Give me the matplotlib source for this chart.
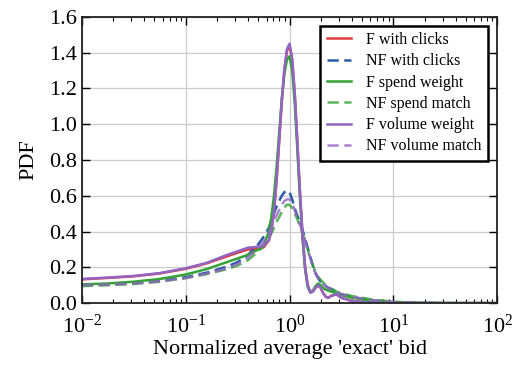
import numpy as np
import matplotlib
matplotlib.use('Agg')
import matplotlib.pyplot as plt

plt.rcParams['font.family'] = ['Liberation Serif', 'DejaVu Serif']
plt.rcParams['mathtext.fontset'] = 'custom'
plt.rcParams['mathtext.rm'] = 'Liberation Serif'

# log10 of the normalized bid
log_bid = [-2, -1.75, -1.5, -1.25, -1, -0.8, -0.6, -0.5, -0.4, -0.3, -0.25, -0.2, -0.175,
           -0.15, -0.125, -0.1, -0.075, -0.05, -0.025, 0, 0.025, 0.05, 0.075, 0.1, 0.125,
           0.15, 0.175, 0.2, 0.225, 0.25, 0.275, 0.3, 0.325, 0.35, 0.375, 0.4, 0.45, 0.5,
           0.6, 0.7, 0.8, 1.0, 1.2, 1.5, 2.0]

f_clicks = [0.133, 0.141, 0.150, 0.166, 0.192, 0.222, 0.262, 0.282, 0.300, 0.302, 0.312, 0.35, 0.41,
            0.51, 0.68, 0.90, 1.12, 1.30, 1.41, 1.44, 1.36, 1.17, 0.90, 0.62, 0.38,
            0.20, 0.10, 0.06, 0.065, 0.085, 0.10, 0.085, 0.055, 0.035, 0.03, 0.04, 0.05, 0.03,
            0.012, 0.006, 0.003, 0.001, 0.0, 0.0, 0.0]
nf_clicks = [0.10, 0.105, 0.112, 0.125, 0.145, 0.17, 0.205, 0.23, 0.27, 0.33, 0.37, 0.42, 0.46,
             0.50, 0.54, 0.57, 0.60, 0.62, 0.63, 0.62, 0.58, 0.53, 0.49, 0.45, 0.41,
             0.36, 0.31, 0.26, 0.21, 0.17, 0.14, 0.12, 0.105, 0.095, 0.085, 0.08, 0.065, 0.05,
             0.035, 0.025, 0.015, 0.006, 0.002, 0.0, 0.0]
f_spend = [0.105, 0.11, 0.12, 0.135, 0.16, 0.19, 0.23, 0.25, 0.27, 0.30, 0.32, 0.40, 0.48,
           0.60, 0.76, 0.95, 1.14, 1.28, 1.36, 1.38, 1.30, 1.12, 0.86, 0.59, 0.36,
           0.19, 0.09, 0.06, 0.07, 0.095, 0.11, 0.10, 0.085, 0.075, 0.07, 0.065, 0.055, 0.045,
           0.03, 0.02, 0.012, 0.004, 0.001, 0.0, 0.0]
nf_spend = [0.095, 0.10, 0.107, 0.12, 0.14, 0.162, 0.19, 0.21, 0.24, 0.29, 0.32, 0.36, 0.39,
            0.42, 0.455, 0.48, 0.51, 0.535, 0.55, 0.55, 0.53, 0.50, 0.47, 0.43, 0.39,
            0.35, 0.30, 0.25, 0.21, 0.175, 0.15, 0.13, 0.115, 0.10, 0.09, 0.08, 0.065, 0.055,
            0.04, 0.03, 0.02, 0.008, 0.003, 0.001, 0.0]
f_volume = [0.135, 0.143, 0.152, 0.168, 0.195, 0.225, 0.27, 0.29, 0.31, 0.315, 0.32, 0.35, 0.41,
            0.51, 0.69, 0.91, 1.13, 1.31, 1.42, 1.45, 1.37, 1.18, 0.91, 0.63, 0.39,
            0.20, 0.10, 0.06, 0.065, 0.085, 0.10, 0.085, 0.055, 0.035, 0.03, 0.04, 0.05, 0.03,
            0.012, 0.006, 0.003, 0.001, 0.0, 0.0, 0.0]
nf_volume = [0.10, 0.104, 0.110, 0.122, 0.14, 0.165, 0.195, 0.22, 0.255, 0.31, 0.345, 0.39, 0.42,
             0.46, 0.49, 0.52, 0.55, 0.57, 0.58, 0.58, 0.56, 0.52, 0.48, 0.44, 0.40,
             0.35, 0.30, 0.25, 0.20, 0.165, 0.14, 0.12, 0.105, 0.095, 0.085, 0.075, 0.06, 0.05,
             0.035, 0.025, 0.015, 0.006, 0.002, 0.0, 0.0]

bid = 10.0 ** np.array(log_bid)

red = '#e23a3a'
blue = '#2b5aa8'
green = '#33a333'
purple = '#9265c4'
dash = (0, (4.5, 2.2))

fig = plt.figure(figsize=(5.12, 3.67), dpi=100)
ax = fig.add_axes([0.160, 0.174, 0.811, 0.780])

ax.plot(bid, f_clicks, color=red, lw=1.8, label='F with clicks')
ax.plot(bid, nf_clicks, color=blue, lw=1.8, ls=dash, label='NF with clicks')
ax.plot(bid, f_spend, color=green, lw=1.8, label='F spend weight')
ax.plot(bid, nf_spend, color=green, lw=1.8, ls=dash, alpha=0.8, label='NF spend match')
ax.plot(bid, f_volume, color=purple, lw=1.8, label='F volume weight')
ax.plot(bid, nf_volume, color=purple, lw=1.8, ls=dash, alpha=0.8, label='NF volume match')

ax.set_xscale('log')
ax.set_xlim(1e-2, 1e2)
ax.set_ylim(0, 1.6)
ax.set_yticks(np.arange(0, 1.61, 0.2))
ax.set_yticklabels(['%.1f' % v for v in np.arange(0, 1.61, 0.2)])
ax.grid(True, which='major', color='#cccccc', lw=0.9)
ax.set_axisbelow(True)
ax.tick_params(which='both', direction='in', top=True, right=True, labelsize=16)
ax.tick_params(axis='x', which='major', pad=8)
ax.tick_params(which='major', length=6, width=1)
ax.tick_params(which='minor', length=3, width=0.8)
for s in ax.spines.values():
    s.set_linewidth(1.3)
    s.set_color('#222222')

ax.set_xlabel("Normalized average 'exact' bid", fontsize=16, labelpad=2)
ax.set_ylabel('PDF', fontsize=16, labelpad=8)

leg = ax.legend(loc='upper right', fontsize=11.5, fancybox=False, framealpha=1,
                edgecolor='black', handlelength=1.5, handletextpad=1.0,
                labelspacing=0.33, borderaxespad=0.55)
leg.get_frame().set_linewidth(1.8)

fig.savefig('out.png', dpi=100)
